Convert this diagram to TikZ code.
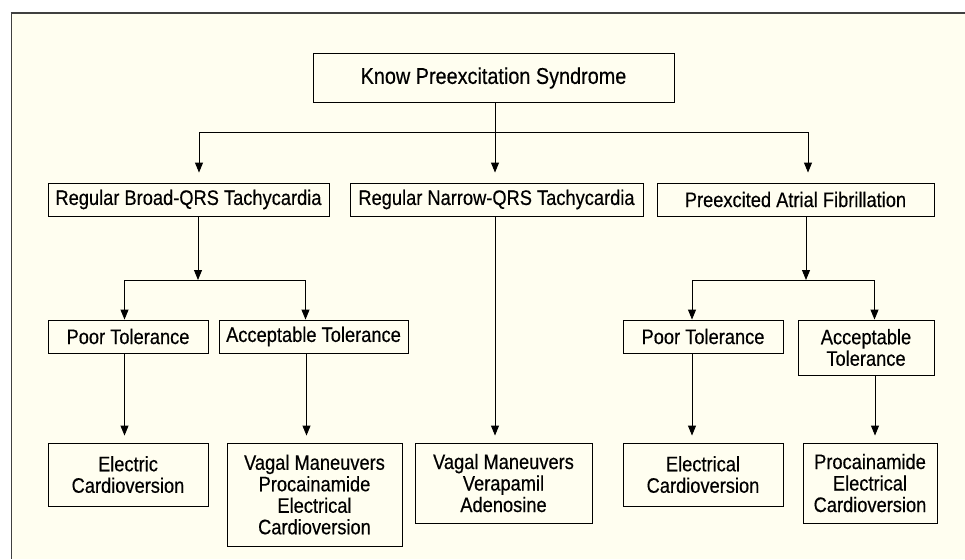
\documentclass[tikz,border=0pt]{standalone}
\usepackage{fontspec}
\setmainfont[FakeStretch=0.87,FakeBold=0.4]{Liberation Sans}
\usetikzlibrary{arrows.meta}
\definecolor{cream}{HTML}{FFFEF0}
\definecolor{framegray}{HTML}{404040}

\begin{document}
\begin{tikzpicture}[x=1pt,y=-1pt,
	box/.style={draw=black, line width=0.9pt, inner sep=0pt, align=center, font=\fontsize{21}{21.5}\selectfont},
	link/.style={line width=0.9pt},
	arr/.style={link, -{Triangle[width=8pt,length=10pt]}}]
		\useasboundingbox (0,0) rectangle (965,559);
		\fill[cream] (11,14) rectangle (965,559);
		\draw[framegray, line width=0.9pt] (11,559) -- (11,14);
		\draw[framegray, line width=2pt] (10.5,13.5) -- (965,13.5);

		% boxes
		\node[box, font=\fontsize{22.8}{23}\selectfont, minimum width=361pt, minimum height=49pt] (know) at (493.5,78) {Know Preexcitation Syndrome};
		\node[box, minimum width=281pt, minimum height=33pt] (rb) at (188.5,199.5) {Regular Broad-QRS Tachycardia};
		\node[box, minimum width=293pt, minimum height=33pt] (rn) at (496.5,199.5) {Regular Narrow-QRS Tachycardia};
		\node[box, minimum width=277pt, minimum height=33pt] (af) at (795.5,199.5) {Preexcited Atrial Fibrillation};
		\node[box, minimum width=160pt, minimum height=33pt] (lpt) at (128,336.5) {Poor Tolerance};
		\node[box, minimum width=189pt, minimum height=33pt] (lat) at (313.5,336.5) {Acceptable Tolerance};
		\node[box, minimum width=160pt, minimum height=33pt] (rpt) at (703,336.5) {Poor Tolerance};
		\node[box, minimum width=136pt, minimum height=55pt] (rat) at (866,347.5) {Acceptable\\Tolerance};
		\node[box, minimum width=160pt, minimum height=63pt] (lec) at (128,474.5) {Electric\\Cardioversion};
		\node[box, minimum width=175pt, minimum height=103pt] (lvm) at (314.5,494.5) {Vagal Maneuvers\\Procainamide\\Electrical\\Cardioversion};
		\node[box, minimum width=177pt, minimum height=80pt] (nvm) at (503.5,483) {Vagal Maneuvers\\Verapamil\\Adenosine};
		\node[box, minimum width=160pt, minimum height=63pt] (rec) at (703,474.5) {Electrical\\Cardioversion};
		\node[box, minimum width=134pt, minimum height=80pt] (rpc) at (870,483) {Procainamide\\Electrical\\Cardioversion};

		% first split
		\coordinate (split) at (495,132);
		\draw[link] (know.south -| split) -- (split);
		\draw[arr] (split) -| ([xshift=10.5pt,yshift=10pt]rb.north);
		\draw[arr] (split) -| ([xshift=12.5pt,yshift=10pt]af.north);
		\draw[arr] (split) -- ([xshift=-1.5pt,yshift=10pt]rn.north);

		% broad QRS branch
		\coordinate (lsplit) at (198,280);
		\draw[arr] (rb.south -| lsplit) -- (lsplit);
		\draw[arr] (lsplit) -| ([xshift=-3.5pt]lpt.north);
		\draw[arr] (lsplit) -| ([xshift=-8pt]lat.north);

		% atrial fibrillation branch
		\coordinate (rsplit) at (806,280);
		\draw[arr] (af.south -| rsplit) -- (rsplit);
		\draw[arr] (rsplit) -| ([xshift=-11pt]rpt.north);
		\draw[arr] (rsplit) -| ([xshift=8.5pt]rat.north);

		% treatments
		\draw[arr] ([xshift=-3.5pt]lpt.south) -- ([xshift=-3.5pt,yshift=7pt]lec.north);
		\draw[arr] ([xshift=-7pt]lat.south) -- ([xshift=-8pt,yshift=7pt]lvm.north);
		\draw[arr] ([xshift=-1.5pt]rn.south) -- ([xshift=-8.5pt,yshift=7pt]nvm.north);
		\draw[arr] ([xshift=-11pt]rpt.south) -- ([xshift=-11pt,yshift=7pt]rec.north);
		\draw[arr] ([xshift=9pt]rat.south) -- ([xshift=5pt,yshift=7pt]rpc.north);

	\end{tikzpicture}
\end{document}
